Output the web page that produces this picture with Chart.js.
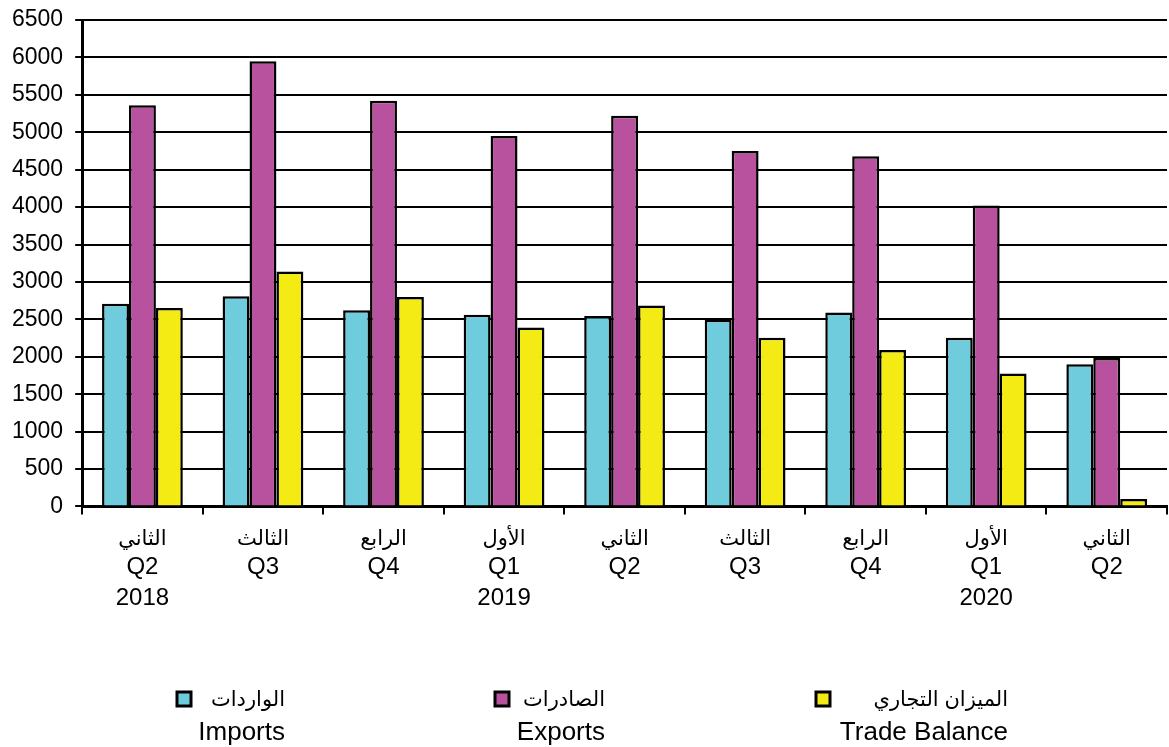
<!DOCTYPE html>
<html lang="ar">
<head>
  <meta charset="UTF-8">
  <title>Imports, Exports and Trade Balance</title>
  <script src="https://cdn.jsdelivr.net/npm/chart.js"></script>
  <style>
    body { margin: 0; background: #fff; }
    #wrap { width: 1169px; height: 747px; }
  </style>
</head>
<body>
  <div id="wrap"><canvas id="tradeChart" width="1169" height="747"></canvas></div>
  <script>
    // category labels (three lines each)
    const quarterAr = ['الثاني', 'الثالث', 'الرابع', 'الأول', 'الثاني', 'الثالث', 'الرابع', 'الأول', 'الثاني'];
    const quarterEn = ['Q2', 'Q3', 'Q4', 'Q1', 'Q2', 'Q3', 'Q4', 'Q1', 'Q2'];
    const years = ['2018', '', '', '2019', '', '', '', '2020', ''];

    // values
    const imports = [2710, 2810, 2620, 2560, 2545, 2495, 2590, 2255, 1900];
    const exports = [5360, 5950, 5420, 4950, 5220, 4750, 4680, 4020, 1985];
    const balance = [2650, 3140, 2800, 2390, 2685, 2255, 2090, 1775, 100];

    const seriesAr = ['الواردات', 'الصادرات', 'الميزان التجاري'];
    const seriesEn = ['Imports', 'Exports', 'Trade Balance'];
    const colors = ['#6ECCDD', '#B8529E', '#F5EB14'];

    // first line left blank: the Arabic quarter name is drawn by the plugin in a smaller size
    const labels = quarterAr.map((q, i) => years[i] ? ['', quarterEn[i], years[i]] : ['', quarterEn[i]]);

    const arabicFont = '21px "Liberation Sans", "DejaVu Sans", Arial, sans-serif';

    // legend drawn below the plot: square, Arabic name, English name underneath
    const legendSpots = [
      { box: 177, textRight: 285 },
      { box: 495, textRight: 605 },
      { box: 816, textRight: 1008 }
    ];
    const bottomLegend = {
      id: 'bottomLegend',
      afterDraw(chart) {
        const ctx = chart.ctx;
        ctx.save();
        ctx.fillStyle = '#000';
        ctx.textBaseline = 'alphabetic';

        // Arabic quarter names above Q labels
        const xs = chart.scales.x;
        ctx.font = arabicFont;
        ctx.textAlign = 'center';
        quarterAr.forEach((q, i) => {
          ctx.fillText(q, xs.getPixelForTick(i), 545);
        });

        legendSpots.forEach((spot, i) => {
          ctx.fillStyle = colors[i];
          ctx.fillRect(spot.box, 692, 14, 14);
          ctx.strokeStyle = '#000';
          ctx.lineWidth = 3;
          ctx.strokeRect(spot.box, 692, 14, 14);
          ctx.fillStyle = '#000';
          ctx.textAlign = 'right';
          ctx.font = arabicFont;
          ctx.fillText(seriesAr[i], spot.textRight, 706);
          ctx.font = '26px "Liberation Sans", Arial, sans-serif';
          ctx.fillText(seriesEn[i], spot.textRight, 740);
        });
        ctx.restore();
      }
    };

    const makeSet = (i, data) => ({
      label: seriesEn[i],
      data: data,
      backgroundColor: colors[i],
      borderColor: '#000',
      borderWidth: 2.5,
      categoryPercentage: 0.67,
      barPercentage: 1.0
    });

    new Chart(document.getElementById('tradeChart'), {
      type: 'bar',
      data: {
        labels: labels,
        datasets: [makeSet(0, imports), makeSet(1, exports), makeSet(2, balance)]
      },
      options: {
        responsive: false,
        animation: false,
        layout: { padding: { top: 2, left: 0, right: 2, bottom: 127 } },
        plugins: {
          legend: { display: false },
          tooltip: { enabled: false }
        },
        scales: {
          x: {
            grid: { offset: true, drawOnChartArea: false, color: '#000', lineWidth: 2, tickLength: 8 },
            border: { color: '#000', width: 3 },
            ticks: {
              color: '#000',
              padding: 6,
              maxRotation: 0,
              autoSkip: false,
              font: { family: '"Liberation Sans", Arial, sans-serif', size: 24, lineHeight: 1.3 }
            }
          },
          y: {
            min: 0,
            max: 6500,
            grid: { color: '#000', lineWidth: 2, tickLength: 7 },
            border: { color: '#000', width: 3 },
            ticks: {
              stepSize: 500,
              color: '#000',
              padding: 12,
              callback: v => String(v),
              font: { family: '"Liberation Sans", Arial, sans-serif', size: 23, lineHeight: 0.7 }
            }
          }
        }
      },
      plugins: [bottomLegend]
    });
  </script>
</body>
</html>
